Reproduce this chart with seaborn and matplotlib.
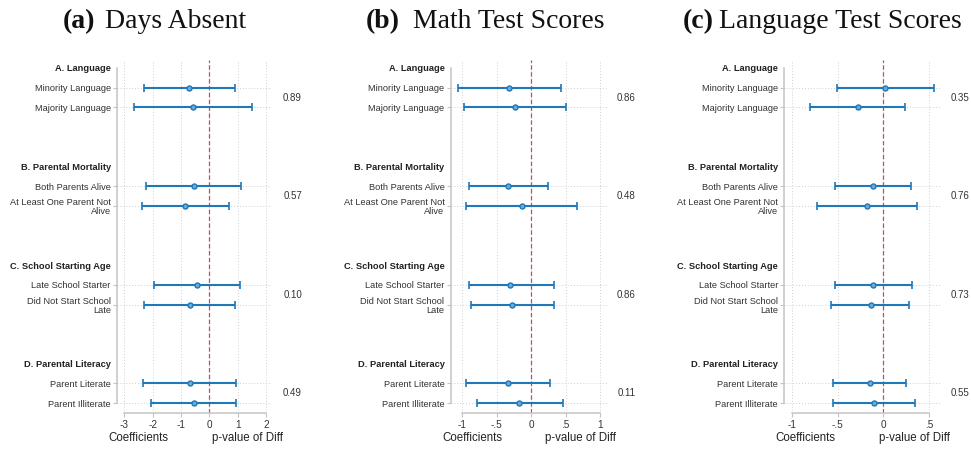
import numpy as np
import pandas as pd
import matplotlib
matplotlib.use("Agg")
import matplotlib.pyplot as plt
import seaborn as sns

# ---- data -------------------------------------------------------------
groups = ["A. Language", "B. Parental Mortality", "C. School Starting Age", "D. Parental Literacy"]
items = [
    ["Minority Language", "Majority Language"],
    ["Both Parents Alive", "At Least One Parent Not\nAlive"],
    ["Late School Starter", "Did Not Start School\nLate"],
    ["Parent Literate", "Parent Illiterate"],
]

days_coef = [-0.71, -0.56, -0.55, -0.85, -0.45, -0.69, -0.69, -0.55]
days_lo = [-2.32, -2.65, -2.23, -2.36, -1.96, -2.29, -2.33, -2.07]
days_hi = [0.92, 1.51, 1.13, 0.68, 1.07, 0.92, 0.95, 0.95]
days_p = ["0.89", "0.57", "0.10", "0.49"]

math_coef = [-0.32, -0.24, -0.33, -0.14, -0.30, -0.28, -0.34, -0.17]
math_lo = [-1.065, -0.98, -0.91, -0.94, -0.91, -0.88, -0.95, -0.79]
math_hi = [0.43, 0.50, 0.24, 0.66, 0.33, 0.33, 0.27, 0.46]
math_p = ["0.86", "0.48", "0.86", "0.11"]

lang_coef = [0.02, -0.28, -0.11, -0.18, -0.11, -0.14, -0.15, -0.10]
lang_lo = [-0.51, -0.80, -0.53, -0.73, -0.53, -0.57, -0.55, -0.55]
lang_hi = [0.55, 0.24, 0.30, 0.37, 0.31, 0.28, 0.25, 0.35]
lang_p = ["0.35", "0.76", "0.73", "0.55"]

# ---- style ------------------------------------------------------------
sns.set_theme(style="white")
plt.rcParams["font.family"] = ["Liberation Sans", "DejaVu Sans"]

BLUE = "#1f78b8"
FILL = "#6aaad9"
SPINE = "#c4c4c4"
GRID = "#cfcfcf"
TXT = "#333333"
W, H = 971, 453

panels = [
    dict(tag="(a)", title="Days Absent", coef=days_coef, lo=days_lo, hi=days_hi, p=days_p,
         spine=117, right=272, xlim=(-3.258, 2.213), ticks=[-3, -2, -1, 0, 1, 2],
         tx0=63, tx1=105),
    dict(tag="(b)", title="Math Test Scores", coef=math_coef, lo=math_lo, hi=math_hi, p=math_p,
         spine=450.7, right=606.7, xlim=(-1.169, 1.098), ticks=[-1, -0.5, 0, 0.5, 1],
         tx0=366, tx1=413),
    dict(tag="(c)", title="Language Test Scores", coef=lang_coef, lo=lang_lo, hi=lang_hi, p=lang_p,
         spine=784.3, right=940, xlim=(-1.085, 0.620), ticks=[-1, -0.5, 0, 0.5],
         tx0=683, tx1=719),
]


def stata_fmt(v):
    if v == int(v):
        return str(int(v))
    s = f"{v:g}"
    return s.replace("0.", ".")


# row layout: header then two items, group period of 5 rows
header_pos = [5 * g for g in range(len(groups))]
item_pos = [5 * g + k for g in range(len(groups)) for k in (1, 2)]
item_labels = [lab for grp in items for lab in grp]

fig = plt.figure(figsize=(W / 100, H / 100), dpi=100)

top_px, bot_px = 60, 413
for pn in panels:
    ax = fig.add_axes([pn["spine"] / W, (H - bot_px) / H,
                       (pn["right"] - pn["spine"]) / W, (bot_px - top_px) / H])
    coef = np.array(pn["coef"])
    lo = np.array(pn["lo"])
    hi = np.array(pn["hi"])
    df = pd.DataFrame({"coef": coef, "row": item_pos})

    ax.axvline(0, color="#c0487a", lw=0.9, ls=(0, (3.5, 2)), zorder=2)
    ax.errorbar(coef, item_pos, xerr=[coef - lo, hi - coef], fmt="none",
                ecolor=BLUE, elinewidth=1.5, capsize=3.2, capthick=1.2, zorder=3)
    sns.scatterplot(data=df, x="coef", y="row", ax=ax, s=13, color=FILL,
                    edgecolor=BLUE, linewidth=1.0, zorder=4, legend=False)

    ax.set_xlim(*pn["xlim"])
    ax.set_ylim(17.5, -0.4)

    ticks_all = sorted(header_pos + item_pos)
    labels_all = []
    for r in ticks_all:
        if r in header_pos:
            labels_all.append(groups[header_pos.index(r)])
        else:
            labels_all.append(item_labels[item_pos.index(r)])
    ax.set_yticks(ticks_all)
    ax.set_yticklabels(labels_all, fontsize=6.7, color=TXT, linespacing=1.0)
    ax.set_xticks(pn["ticks"])
    ax.set_xticklabels([stata_fmt(t) for t in pn["ticks"]], fontsize=7.2, color=TXT)

    ax.tick_params(axis="y", length=3, width=0.8, color=SPINE, pad=1.5, left=True)
    ax.tick_params(axis="x", length=3, width=0.8, color=SPINE, pad=2, bottom=True)

    ax.grid(True, axis="both", ls=(0, (1, 2)), color=GRID, lw=0.7)
    ax.set_axisbelow(True)
    for r, tk in zip(ticks_all, ax.yaxis.get_major_ticks()):
        if r in header_pos:
            tk.tick1line.set_visible(False)
            tk.gridline.set_visible(False)
            tk.label1.set_fontweight("bold")
            tk.label1.set_color("#222222")

    for s in ["top", "right"]:
        ax.spines[s].set_visible(False)
    for s in ["left", "bottom"]:
        ax.spines[s].set_color(SPINE)
        ax.spines[s].set_linewidth(1.1)
    ax.spines["left"].set_bounds(0, 17)
    ax.spines["bottom"].set_bounds(pn["ticks"][0], pn["ticks"][-1])
    ax.set_xlabel("")
    ax.set_ylabel("")

    # p-values of the within-group difference
    for g, pv in enumerate(pn["p"]):
        y = (H - (68 + 19.7 * (header_pos[g] + 1.5))) / H
        fig.text((pn["spine"] + 175.5) / W, y, pv, ha="center", va="center",
                 fontsize=7, color=TXT)

    fig.text((pn["spine"] + 21.5) / W, (H - 438) / H, "Coefficients",
             ha="center", va="center", fontsize=8.3, color="#222222")
    fig.text((pn["spine"] + 130) / W, (H - 438) / H, "p-value of Diff",
             ha="center", va="center", fontsize=8.3, color="#222222")

    fig.text(pn["tx0"] / W, (H - 28.5) / H, pn["tag"], ha="left", va="baseline",
             fontsize=20, fontweight="bold", family="Liberation Serif", color="#111111")
    fig.text(pn["tx1"] / W, (H - 28.5) / H, pn["title"], ha="left", va="baseline",
             fontsize=20, family="Liberation Serif", color="#111111")

fig.savefig("out.png", dpi=100)
